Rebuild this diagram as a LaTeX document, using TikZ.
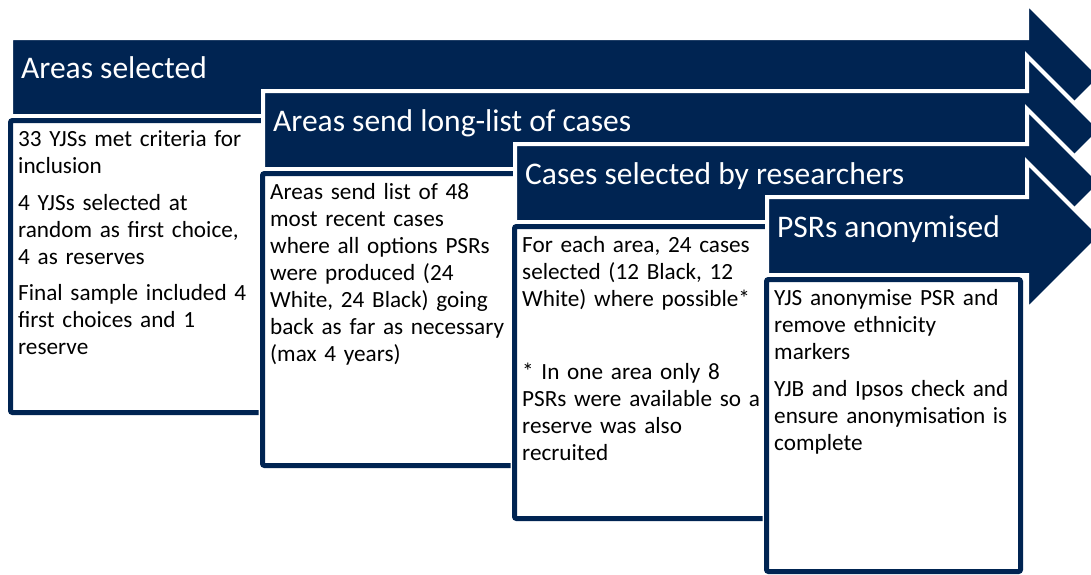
\documentclass[tikz,border=0pt]{standalone}
\usepackage{fontspec}
\setmainfont{Carlito}
\definecolor{navy}{RGB}{0,36,82}
\newcommand{\gap}{\par\vspace{9.5pt}}

\begin{document}
\begin{tikzpicture}[x=1pt,y=-1pt,
    stepbar/.style={fill=navy,draw=white,line width=4pt,line join=miter},
    listbox/.style={draw=navy,fill=white,line width=5pt,rounded corners=2pt,
      preaction={draw=white,line width=8pt}},
    steptitle/.style={anchor=base west,inner sep=0pt,text=white,
      font=\fontsize{31.5}{36}\selectfont},
    steptext/.style={anchor=north west,inner sep=0pt,text width=248pt,
      align=left,font=\fontsize{23.2}{27}\selectfont}]
  \useasboundingbox (0,0) rectangle (1091,574);
  \clip (0,0) rectangle (1091,574);

  % step 1
  \draw[stepbar] (11,38) -- (1027,38) -- (1027,3) -- (1101,77) -- (1027,151) -- (1027,116) -- (11,116) -- cycle;
  \node[steptitle] (title1) at (21,78) {Areas selected};
  \draw[listbox] (10.5,120.5) rectangle (264.5,412.5);
  \node[steptext] (text1) at (18,127.5) {\rule{0pt}{19pt}33 YJSs met criteria for\\inclusion\gap
    4 YJSs selected at\\random as first choice,\\4 as reserves\gap
    Final sample included 4\\first choices and 1\\reserve};

  % step 2
  \draw[stepbar] (263,91) -- (1027,91) -- (1027,56) -- (1101,130) -- (1027,204) -- (1027,169) -- (263,169) -- cycle;
  \node[steptitle] (title2) at (273,131) {Areas send long-list of cases};
  \draw[listbox] (262.5,173.5) rectangle (516.5,465.5);
  \node[steptext] (text2) at (270,180.5) {\rule{0pt}{19pt}Areas send list of 48\\most recent cases\\where all options PSRs\\were produced (24\\White, 24 Black) going\\back as far as necessary\\(max 4 years)};

  % step 3
  \draw[stepbar] (515,144) -- (1027,144) -- (1027,109) -- (1101,183) -- (1027,257) -- (1027,222) -- (515,222) -- cycle;
  \node[steptitle] (title3) at (525,184) {Cases selected by researchers};
  \draw[listbox] (514.5,226.5) rectangle (768.5,518.5);
  \node[steptext] (text3) at (522,233.5) {\rule{0pt}{19pt}For each area, 24 cases\\selected (12 Black, 12\\White) where possible*\gap
    \mbox{}\gap
    * In one area only 8\\PSRs were available so a\\reserve was also\\recruited};

  % step 4
  \draw[stepbar] (767,197) -- (1027,197) -- (1027,162) -- (1101,236) -- (1027,310) -- (1027,275) -- (767,275) -- cycle;
  \node[steptitle] (title4) at (777,237) {PSRs anonymised};
  \draw[listbox] (766.5,279.5) rectangle (1020.5,571.5);
  \node[steptext] (text4) at (774,286.5) {\rule{0pt}{19pt}YJS anonymise PSR and\\remove ethnicity\\markers\gap
    YJB and Ipsos check and\\ensure anonymisation is\\complete};
\end{tikzpicture}
\end{document}
